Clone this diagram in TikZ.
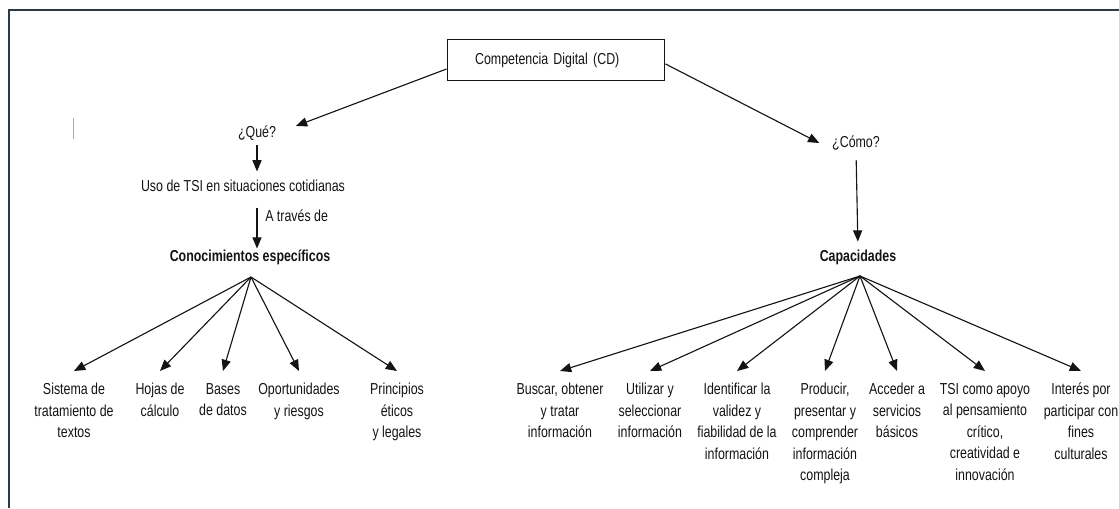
\documentclass[tikz,border=0pt]{standalone}
\usepackage{fontspec}
\setmainfont[FakeStretch=0.78]{Liberation Sans}
\usetikzlibrary{arrows.meta,positioning}
\definecolor{cdframe}{RGB}{44,58,72}
\definecolor{cdink}{RGB}{20,20,20}
\definecolor{cdmark}{RGB}{170,170,170}

\begin{document}
\begin{tikzpicture}[x=0.025cm,y=-0.025cm,
  font=\fontsize{11.3}{15.3}\selectfont, text=cdink,
  txt/.style={inner sep=0pt},
  hoja/.style={anchor=north, align=center, inner xsep=0pt, inner ysep=8.5pt},
  flecha/.style={-{Triangle[length=8pt,width=6.5pt]}, line width=0.8pt, cdink}]
  \useasboundingbox (0,0) rectangle (1119,508);
  \draw[cdframe, line width=1.5pt] (9,508) -- (9,10) -- (1119,10);
  \draw[cdmark, line width=0.6pt] (73,118) -- (73,139);

  \node[draw=cdink, line width=0.7pt, text width=115pt, inner xsep=20pt,
        minimum height=28.5pt, align=left] (cd) at (556,60) {Competencia Digital (CD)};

  % rama izquierda
  \node[txt] (que) at (257,133) {¿Qué?};
  \node[txt] (uso) at (243,186) {Uso de TSI en situaciones cotidianas};
  \node[txt, font=\fontsize{11.3}{15.3}\selectfont\bfseries] (conoc) at (250,257) {Conocimientos específicos};
  \coordinate (kfan) at (251,277);
  \draw[flecha] ([yshift=-6.4pt]cd.west) -- ([xshift=14pt,yshift=5pt]que.east);
  \draw[flecha, shorten <=3pt, shorten >=6pt] (que.south) -- (que.south |- uso.north);
  \draw[flecha, shorten <=11pt, shorten >=0.5pt] (que.south |- uso.south) -- (que.south |- conoc.north)
    node[pos=0.42, right=5.5pt, txt] (atraves) {A través de};
  \foreach \i/\x/\txt in {1/74/{Sistema de\\tratamiento de\\textos},
                          2/160/{Hojas de\\cálculo},
                          3/223/{Bases\\de datos},
                          4/299/{Oportunidades\\y riesgos},
                          5/397/{Principios\\éticos\\y legales}}{
    \node[hoja] (k\i) at (\x,371) {\txt};
    \draw[flecha] (kfan) -- (k\i.north);
  }

  % rama derecha
  \node[txt] (como) at (856,143) {¿Cómo?};
  \node[txt, font=\fontsize{11.3}{15.3}\selectfont\bfseries] (capac) at (858,257) {Capacidades};
  \coordinate (cfan) at (860,276);
  \draw[flecha] ([yshift=-2.8pt]cd.east) -- ([xshift=-9pt]como.west);
  \draw[flecha, shorten <=7pt, shorten >=5.5pt] (como.south) -- (capac.north);
  \foreach \i/\x/\txt in {1/560/{Buscar, obtener\\y tratar\\información},
                          2/650/{Utilizar y\\seleccionar\\información},
                          3/737/{Identificar la\\validez y\\fiabilidad de la\\información},
                          4/825/{Producir,\\presentar y\\comprender\\información\\compleja},
                          5/897/{Acceder a\\servicios\\básicos},
                          6/985/{TSI como apoyo\\al pensamiento\\crítico,\\creatividad e\\innovación},
                          7/1081/{Interés por\\participar con\\fines\\culturales}}{
    \node[hoja] (c\i) at (\x,371) {\txt};
    \draw[flecha] (cfan) -- (c\i.north);
  }
\end{tikzpicture}
\end{document}
